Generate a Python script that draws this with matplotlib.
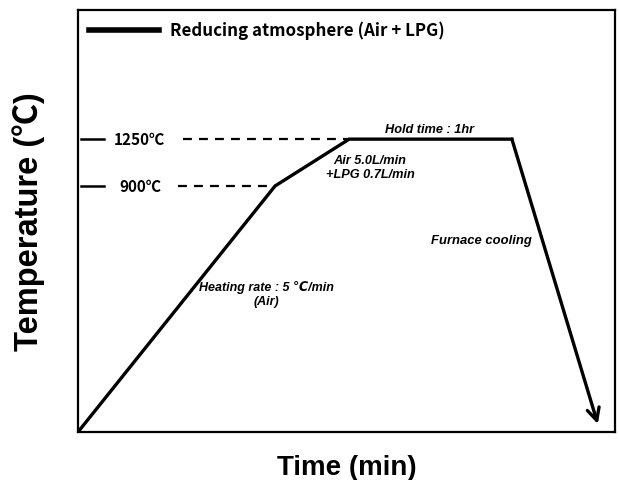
import matplotlib.pyplot as plt

# profile points (arbitrary units, figure is schematic)
time = [0, 36.7, 50.5, 80.8, 96.8]
temp = [0, 58.3, 69.4, 69.4, 1.9]

levels = [69.4, 58.3]
level_labels = ['1250℃', '900℃']
level_ends = [50.5, 36.7]

fig = plt.figure(figsize=(6.19, 4.81), dpi=100)
ax = fig.add_axes([78/619, 48/481, 537/619, 422/481])
ax.set_xlim(0, 100)
ax.set_ylim(0, 100)
ax.set_xticks([])
ax.set_yticks([])
for s in ax.spines.values():
    s.set_linewidth(1.6)

ax.plot(time[:4], temp[:4], color='black', lw=2.4, solid_joinstyle='miter',
        label='Reducing atmosphere (Air + LPG)')
ax.annotate('', xy=(time[4], temp[4]), xytext=(time[3], temp[3]),
            arrowprops=dict(arrowstyle='->', lw=2.4, color='black',
                            mutation_scale=22, shrinkA=0, shrinkB=0))

kfont = ['Noto Sans CJK KR', 'DejaVu Sans']
ifont = ['Liberation Sans', 'DejaVu Sans']
afont = ['Liberation Sans', 'Noto Sans CJK KR', 'DejaVu Sans']

# level markers on the temperature axis
lab_x = [11.4, 11.6]
dash_start = [19.5, 18.6]
for lv, lb, xe, lx, ds in zip(levels, level_labels, level_ends, lab_x, dash_start):
    ax.plot([0.5, 4.8], [lv, lv], color='black', lw=1.8)
    ax.text(lx, lv, lb, ha='center', va='center', fontsize=11, fontweight='bold',
            family=kfont)
    ax.plot([ds, xe], [lv, lv], color='black', lw=1.6, ls=(0, (4, 3.2)))

ax.text(65.4, 71.8, 'Hold time : 1hr', ha='center', va='center', fontsize=9.2,
        fontweight='bold', style='italic', family=ifont)
ax.text(54.4, 62.8, 'Air 5.0L/min\n+LPG 0.7L/min', ha='center', va='center',
        fontsize=9.2, fontweight='bold', style='italic', family=ifont, linespacing=1.2)
ax.text(35.0, 32.8, 'Heating rate : 5 ℃/min\n(Air)', ha='center', va='center',
        fontsize=9.0, fontweight='bold', style='italic', family=ifont, linespacing=1.2)
ax.text(75.2, 45.5, 'Furnace cooling', ha='center', va='center', fontsize=9.4,
        fontweight='bold', style='italic', family=ifont)

leg = ax.legend(loc='upper left', bbox_to_anchor=(0.008, 0.99), frameon=False,
                handlelength=4.1, handletextpad=0.7, borderaxespad=0,
                prop={'family': kfont, 'weight': 'bold', 'size': 12.2})
for h in leg.legend_handles:
    h.set_linewidth(4)

ax.set_xlabel('Time (min)', fontsize=20, fontweight='bold', family=afont, labelpad=16)
ax.set_ylabel('Temperature (℃)', fontsize=23.5, fontweight='bold', family=afont, labelpad=24)

fig.savefig('out.png', dpi=100)
